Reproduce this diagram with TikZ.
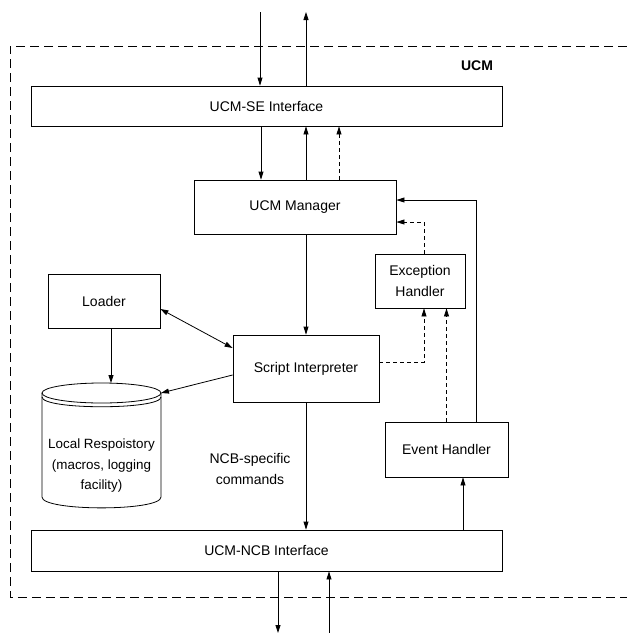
\documentclass[tikz,border=0pt]{standalone}
\usepackage{fontspec}
\setmainfont{Liberation Sans}
\usepackage{tikz}
\usetikzlibrary{arrows.meta}
\tikzset{
	every node/.style = {
		align=center,
		font=\fontsize{14}{20.5}\selectfont
	},
	block/.style = {
		shape=rectangle,
		draw,
		line width=0.8pt,
		inner sep=0pt
	},
	arr/.style = {
		line width=0.8pt,
		-{Triangle[length=8pt,width=5pt]}
	},
	darr/.style = {
		arr,
		dash pattern=on 4pt off 3pt
	}
}

\begin{document}
\begin{tikzpicture}[x=1pt,y=-1pt]
	\useasboundingbox (0,0) rectangle (627,633);
	% UCM frame
	\draw[line width=0.8pt,dash pattern=on 9pt off 5pt] (627,46) -- (10,46) -- (10,597) -- (627,597);
	\node[font=\fontsize{14}{16}\bfseries] (ucm) at (477,66) {UCM};

	% blocks
	\node[block,minimum width=471,minimum height=40] (seif) at (266.5,106) {UCM-SE Interface};
	\node[block,minimum width=202,minimum height=54] (manager) at (295,207) {UCM Manager};
	\node[block,minimum width=90,minimum height=54] (exception) at (420,281) {Exception\\Handler};
	\node[block,minimum width=112,minimum height=54] (loader) at (104,301) {Loader};
	\node[block,minimum width=146,minimum height=67] (interp) at (306,368.5) {Script Interpreter};
	\node[block,minimum width=123,minimum height=55] (event) at (446.5,449.5) {Event Handler};
	\node[block,minimum width=471,minimum height=41] (ncbif) at (266.5,550.5) {UCM-NCB Interface};

	% repository
	\draw[line width=0.8pt] (101.5,393) ellipse[x radius=59.5,y radius=10];
	\draw[line width=0.8pt] (42,397) .. controls (42,410) and (161,410) .. (161,397);
	\draw[line width=0.8pt] (42,393) -- (42,497) .. controls (42,511.5) and (161,511.5) .. (161,497) -- (161,393);
	\node[font=\fontsize{13.4}{20.5}\selectfont] (repo) at (101.5,466) {Local Respoistory\\(macros, logging\\facility)};
	\coordinate (repotop) at (111,383);
	\coordinate (repoin) at (161,393);

	\node (cmds) at (250,469) {NCB-specific\\commands};

	% outside
	\coordinate (sein) at (260,12);
	\coordinate (seout) at (306,12);
	\coordinate (ncbout) at (278,633);
	\coordinate (ncbin) at (329,633);
	\draw[arr] (sein) -- (sein |- seif.north);
	\draw[arr] (seout |- seif.north) -- (seout);
	\draw[arr] (ncbout |- ncbif.south) -- (ncbout);
	\draw[arr] (ncbin) -- (ncbin |- ncbif.south);

	% connectors
	\draw[arr] ([xshift=-34pt]manager.north |- seif.south) -- ([xshift=-34pt]manager.north);
	\draw[arr] ([xshift=11pt]manager.north) -- ([xshift=11pt]manager.north |- seif.south);
	\draw[darr] ([xshift=44pt]manager.north) -- ([xshift=44pt]manager.north |- seif.south);
	\draw[arr] (manager.south -| interp.north) -- (interp.north);
	\draw[arr] (interp.south) -- (interp.south |- ncbif.north);
	\draw[arr,{Triangle[length=8pt,width=5pt]}-{Triangle[length=8pt,width=5pt]}] ([yshift=-8pt]loader.east) -- ([yshift=20.5pt]interp.west);
	\draw[arr] ([xshift=7pt]loader.south) -- (repotop);
	\draw[arr] ([yshift=-6.5pt]interp.west) -- (repoin);
	\draw[darr] ([yshift=6.5pt]interp.east) -| ([xshift=4pt]exception.south);
	\draw[darr] (event.north) -- (event.north |- exception.south);
	\draw[darr] ([xshift=4pt]exception.north) |- ([yshift=-15pt]manager.east);
	\draw[arr] ([xshift=29.5pt]event.north) |- ([yshift=7pt]manager.east);
	\draw[arr] ([xshift=16.5pt]event.south |- ncbif.north) -- ([xshift=16.5pt]event.south);
\end{tikzpicture}
\end{document}
